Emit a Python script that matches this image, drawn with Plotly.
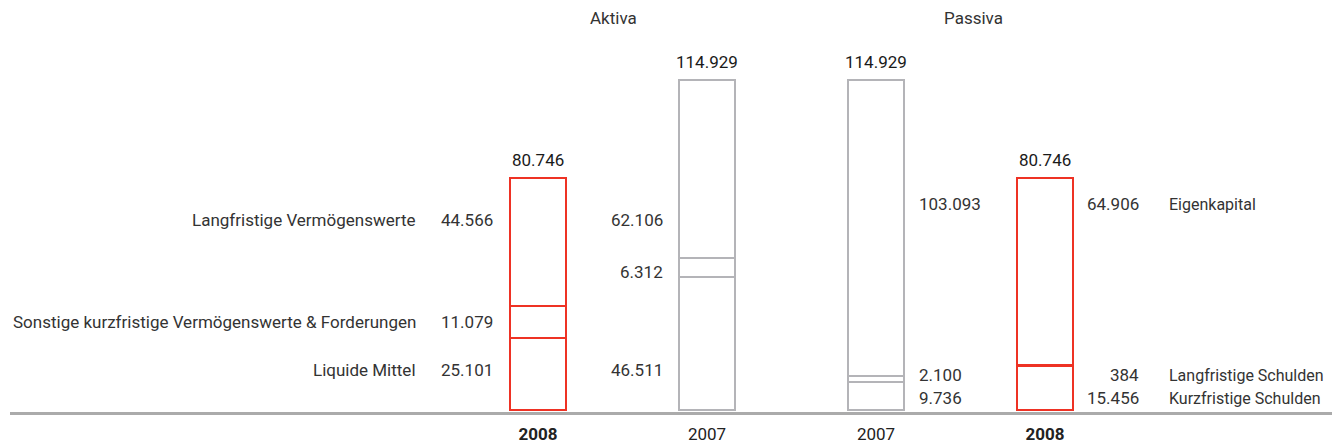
import plotly.graph_objects as go

# ---------------- data (T€) ----------------
years = ["2008", "2007", "2007", "2008"]
bar_colors_key = ["2008", "2007", "2007", "2008"]

aktiva_labels = ["Liquide Mittel", "Sonstige kurzfristige Vermögenswerte & Forderungen", "Langfristige Vermögenswerte"]
aktiva_2008 = [25101, 11079, 44566]
aktiva_2007 = [46511, 6312, 62106]

passiva_labels = ["Kurzfristige Schulden", "Langfristige Schulden", "Eigenkapital"]
passiva_2007 = [9736, 2100, 103093]
passiva_2008 = [15456, 384, 64906]

totals = [80746, 114929, 114929, 80746]

# ---------------- layout helpers ----------------
RED = "#EE3224"
GRAY = "#B4B4B8"
TXT = "#333333"
FONT = "Roboto, Liberation Sans Narrow, Arial Narrow, sans-serif"
FS = 17

W, H = 1332, 444
ML, MR, MT, MB = 10, 0, 0, 32
PLOT_H = H - MT - MB          # pixels of plot area
UNIT_PX = 169.0               # pixels per x unit
BAR_W = 56 / UNIT_PX
X0 = -(538 - ML) / UNIT_PX
X1 = X0 + (W - ML - MR) / UNIT_PX
PX_PER_K = 2.87
BASE_PX = 410                 # pixel row of value 0
Y_LO = -(H - MB - BASE_PX) / PX_PER_K * 1000
Y_HI = (BASE_PX - MT) / PX_PER_K * 1000

def py2y(py):
    return (BASE_PX - py) / PX_PER_K * 1000

def dx(px):
    return px / UNIT_PX

def fmt(v):
    return f"{v:,}".replace(",", ".")

xpos = [0, 1, 2, 3]
line_cols = [RED if k == "2008" else GRAY for k in bar_colors_key]

stacks = list(zip(aktiva_2008, aktiva_2007, passiva_2007, passiva_2008))

fig = go.Figure()
for seg in stacks:
    fig.add_trace(go.Bar(
        x=xpos, y=list(seg), width=BAR_W,
        marker=dict(color="white", line=dict(color=line_cols, width=2.5)),
        hoverinfo="skip", showlegend=False,
    ))

ann = []
def add(x, py, text, anchor, color=TXT, size=FS):
    ann.append(dict(x=x, y=py2y(py), xref="x", yref="y", text=text, showarrow=False,
                    xanchor=anchor, yanchor="middle",
                    font=dict(family=FONT, size=size, color=color)))

# totals above bars
for x, t in zip(xpos, totals):
    ann.append(dict(x=x, y=t, xref="x", yref="y", text=fmt(t), showarrow=False,
                    xanchor="center", yanchor="bottom", yshift=6,
                    font=dict(family=FONT, size=FS, color="#1a1a1a")))

# Aktiva rows: bottom, middle, top
akt_rows_2008 = [370, 322, 220]
akt_rows_2007 = [370, 272, 220]
for i in range(3):
    add(xpos[0] + dx(-120), akt_rows_2008[i], aktiva_labels[i], "right")
    add(xpos[0] + dx(-43), akt_rows_2008[i], fmt(aktiva_2008[i]), "right")
    add(xpos[1] + dx(-42), akt_rows_2007[i], fmt(aktiva_2007[i]), "right")

pas_rows = [398, 375, 204]
for i in range(3):
    add(xpos[2] + dx(41), pas_rows[i], fmt(passiva_2007[i]), "left")
    add(xpos[3] + dx(96), pas_rows[i], fmt(passiva_2008[i]), "right")
    add(xpos[3] + dx(122), pas_rows[i], passiva_labels[i], "left", size=16)

# headers
ann.append(dict(x=xpos[0] + dx(75), y=py2y(18), xref="x", yref="y", text="Aktiva",
                showarrow=False, xanchor="center", yanchor="middle",
                font=dict(family=FONT, size=FS, color=TXT)))
ann.append(dict(x=xpos[2] + dx(97), y=py2y(18), xref="x", yref="y", text="Passiva",
                showarrow=False, xanchor="center", yanchor="middle",
                font=dict(family=FONT, size=FS, color=TXT)))
ann.append(dict(x=0, y=1, xref="paper", yref="paper", text="in T€", showarrow=False,
                xanchor="left", yanchor="bottom", yshift=-4,
                font=dict(family=FONT, size=FS, color=TXT)))

tick_text = [f"<b>{y}</b>" if y == "2008" else y for y in years]

fig.update_layout(
    width=W, height=H,
    margin=dict(l=ML, r=MR, t=MT, b=MB, autoexpand=False),
    paper_bgcolor="white", plot_bgcolor="white",
    barmode="stack", bargap=0,
    annotations=ann,
    font=dict(family=FONT, size=FS, color=TXT),
    xaxis=dict(range=[X0, X1], tickvals=xpos, ticktext=tick_text, automargin=False,
               showgrid=False, zeroline=False, showline=True,
               linecolor="#ABABAB", linewidth=3, layer="below traces",
               ticks="outside", ticklen=5, tickcolor="rgba(0,0,0,0)",
               tickfont=dict(family=FONT, size=FS, color="#222222")),
    yaxis=dict(range=[Y_LO, Y_HI], visible=False, showgrid=False, zeroline=False,
               automargin=False),
)

fig.write_html("out.html")
